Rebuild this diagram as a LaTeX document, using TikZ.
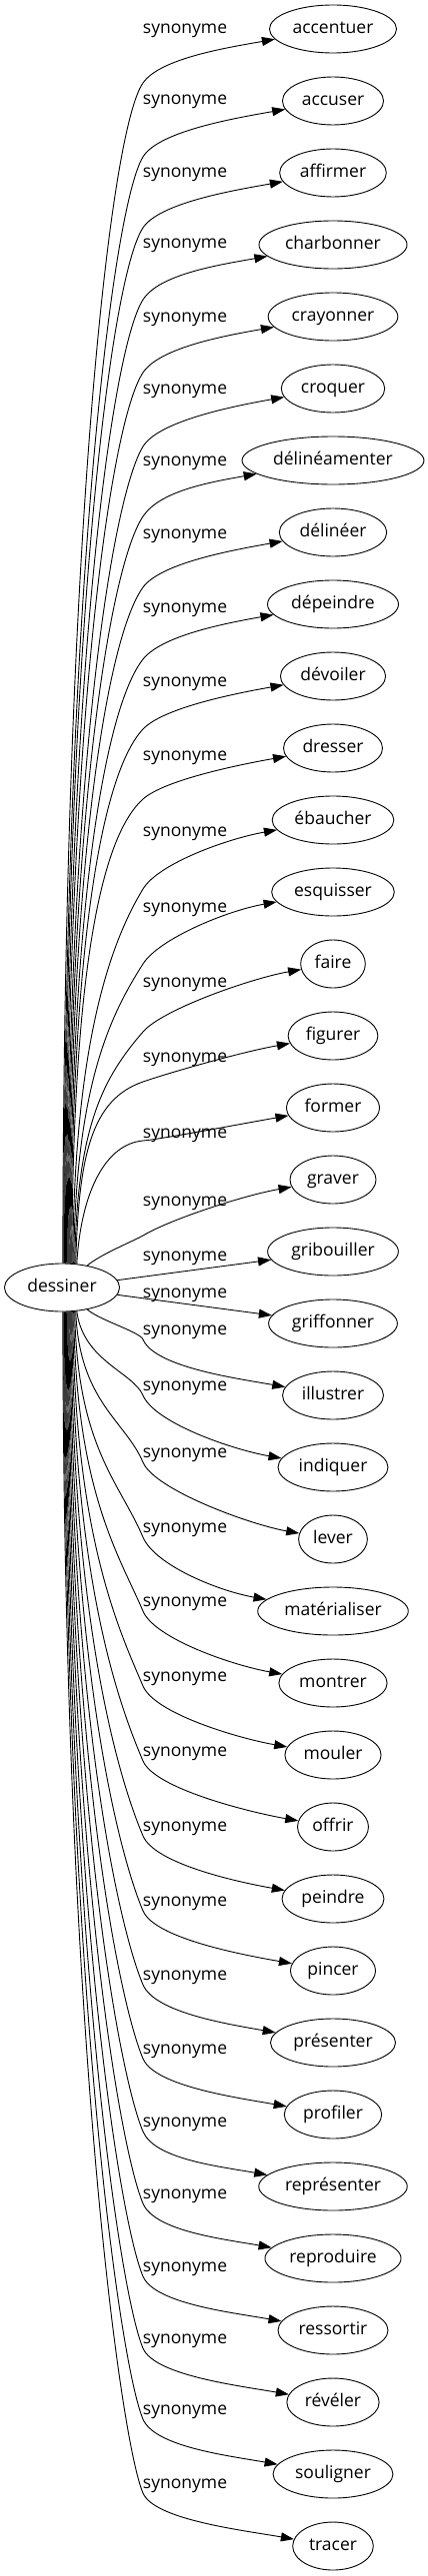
\documentclass[tikz,border=0pt]{standalone}
\usepackage{fontspec}
\setmainfont{Open Sans}
\usetikzlibrary{shapes.geometric,arrows.meta}

\tikzset{
	mot/.style={draw, ellipse, line width=0.225pt, minimum height=12pt, inner xsep=1.125pt, inner ysep=0.25pt,
		text height=3.125pt, text depth=1pt, font=\fontsize{4.375}{5}\selectfont},
	rel/.style={inner sep=0pt, text height=3.125pt, text depth=1pt, font=\fontsize{4.375}{5}\selectfont},
	syn/.style={-{Triangle[length=3.25pt,width=2.25pt]}, line width=0.225pt}
}

\begin{document}
\begin{tikzpicture}[x=0.25pt,y=0.25pt]
	\useasboundingbox (0,0) rectangle (428,-2579);
	\node[mot, inner xsep=1.5pt] (dessiner) at (62,-1289) {dessiner};

	% au-dessus : nom/texte/etiquette/coude
	\foreach \nom/\txt/\lab/\cou [count=\i from 0] in {
			accentuer/accentuer/29/83, accuser/accuser/100/157, affirmer/affirmer/173/228,
			charbonner/charbonner/244/300, crayonner/crayonner/318/373, croquer/croquer/390/447,
			delineamenter/délinéamenter/462/517, delineer/délinéer/535/588, depeindre/dépeindre/609/660,
			devoiler/dévoiler/683/730, dresser/dresser/757/800, ebaucher/ébaucher/833/890,
			esquisser/esquisser/909/965, faire/faire/984/1033, figurer/figurer/1059/1083,
			former/former/1135/1142, graver/graver/1203/1237}
	{
		\pgfmathsetmacro{\ty}{29+72*\i}
		\pgfmathsetmacro{\h}{1265-\cou}
		\pgfmathsetmacro{\oa}{90-atan(900/\h/\h)}
		\pgfmathsetmacro{\sa}{min(\oa,88-2*\i)}
		\pgfmathsetmacro{\th}{max(5,min(67,1.2*(\cou-\lab-8)))}
		\pgfmathsetmacro{\da}{0.6*\h}
		\pgfmathsetmacro{\db}{min(60,0.3*\h)}
		\pgfmathsetmacro{\dc}{min(30,0.55*(\cou-\ty))}
		\node[mot] (\nom) at (333,-\ty) {\txt};
		\node[rel] (lab-\nom) at (185,-\lab) {synonyme};
		\coordinate (w-\nom) at (143,-\cou);
		\draw[syn] (dessiner.\sa) .. controls +(\oa:\da) and +(\th+180:\db) .. (w-\nom)
			.. controls +(\th:\dc) and +(190:50) .. (\nom.190);
	}

	% les deux du milieu
	\node[mot] (gribouiller) at (333,-1253) {gribouiller};
	\node[rel] (lab-gribouiller) at (185,-1258) {synonyme};
	\node[mot] (griffonner) at (333,-1325) {griffonner};
	\node[rel] (lab-griffonner) at (185,-1295) {synonyme};
	\draw[syn] (dessiner) -- (gribouiller);
	\draw[syn] (dessiner) -- (griffonner);

	% en dessous
	\foreach \nom/\txt/\lab/\cou [count=\i from 0] in {
			illustrer/illustrer/1332/1341, indiquer/indiquer/1388/1397, lever/lever/1455/1464,
			materialiser/matérialiser/1530/1539, montrer/montrer/1604/1613, mouler/mouler/1679/1688,
			offrir/offrir/1754/1763, peindre/peindre/1829/1838, pincer/pincer/1904/1913,
			presenter/présenter/1978/1987, profiler/profiler/2052/2061, representer/représenter/2125/2134,
			reproduire/reproduire/2197/2206, ressortir/ressortir/2270/2279, reveler/révéler/2342/2351,
			souligner/souligner/2413/2422, tracer/tracer/2487/2496}
	{
		\pgfmathsetmacro{\ty}{1397+72*\i}
		\pgfmathsetmacro{\h}{\cou-1313}
		\pgfmathsetmacro{\oa}{atan(900/\h/\h)-90}
		\pgfmathsetmacro{\sa}{max(\oa,-56-2*\i)}
		\pgfmathsetmacro{\da}{0.6*\h}
		\pgfmathsetmacro{\db}{min(60,0.3*\h)}
		\pgfmathsetmacro{\dc}{min(30,0.55*(\ty-\cou))}
		\node[mot] (\nom) at (333,-\ty) {\txt};
		\node[rel] (lab-\nom) at (185,-\lab) {synonyme};
		\coordinate (w-\nom) at (143,-\cou);
		\draw[syn] (dessiner.\sa) .. controls +(\oa:\da) and +(113:\db) .. (w-\nom)
			.. controls +(-67:\dc) and +(170:50) .. (\nom.170);
	}
\end{tikzpicture}
\end{document}
